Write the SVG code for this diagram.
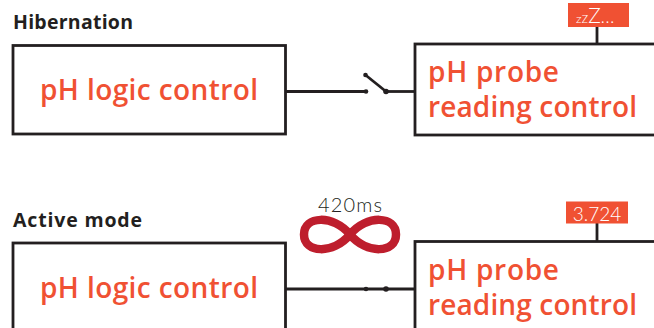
<svg xmlns="http://www.w3.org/2000/svg" width="654" height="328" viewBox="0 0 654 328">
<style>
.box{fill:#fff;stroke:#231f20;stroke-width:2.8}
.wire{fill:none;stroke:#231f20;stroke-width:2.8}
.dot{fill:#231f20}
.head{font-family:"Open Sans",Lato,"Liberation Sans",sans-serif;font-weight:700;font-size:19.5px;fill:#231f20}
.lbl{font-family:"Open Sans",Lato,"Liberation Sans",sans-serif;font-weight:600;font-size:28px;fill:#f05133}
.badge{fill:#f05133}
.btxt{font-family:Lato,"Liberation Sans",sans-serif;font-weight:300;fill:#fff}
.time{font-family:Lato,"Liberation Sans",sans-serif;font-weight:300;font-size:20px;fill:#231f20}
</style>
<rect width="654" height="328" fill="#fff"/>
<text class="head" x="13" y="29" textLength="120">Hibernation</text>
<text class="head" x="13" y="226.5" textLength="129">Active mode</text>

<g id="connectors">
<line class="wire" x1="286" y1="91.5" x2="366" y2="91.5"/>
<line class="wire" x1="386" y1="91.5" x2="415" y2="91.5"/>
<line class="wire" x1="365.5" y1="75" x2="386" y2="91.5"/>
<circle class="dot" cx="366" cy="91.5" r="2.3"/>
<circle class="dot" cx="386" cy="91.5" r="2.8"/>
<circle class="dot" cx="365.5" cy="75" r="2.3"/>
<line class="wire" x1="597" y1="26" x2="597" y2="44"/>
<line class="wire" x1="286" y1="289" x2="415" y2="289"/>
<circle class="dot" cx="366" cy="289" r="2.3"/>
<circle class="dot" cx="386" cy="289" r="2.8"/>
<line class="wire" x1="597" y1="223" x2="597" y2="241.5"/>
</g>

<g id="logic-hibernation">
<rect class="box" x="13" y="45.5" width="272.5" height="88.5"/>
<text class="lbl" x="149" y="100" text-anchor="middle" textLength="218">pH logic control</text>
</g>
<g id="probe-hibernation">
<rect class="box" x="415" y="44" width="260" height="91"/>
<text class="lbl" x="428" y="82" textLength="131">pH probe</text>
<text class="lbl" x="428" y="117" textLength="209">reading control</text>
</g>
<g id="badge-sleep">
<rect class="badge" x="568" y="3" width="61" height="24"/>
<text class="btxt" x="576" y="22.5"><tspan font-size="12.5">z</tspan><tspan font-size="15">z</tspan><tspan font-size="21">Z</tspan><tspan font-size="17" letter-spacing="0.8">...</tspan></text>
</g>

<g id="loop-timer">
<text class="time" x="350" y="211.5" text-anchor="middle" textLength="64">420ms</text>
<path d="M350,234.5 C367,214 396,216 396,234.5 C396,253 367,255 350,234.5 C333,214 304,216 304,234.5 C304,253 333,255 350,234.5 Z" fill="none" stroke="#be1e2d" stroke-width="8.5"/>
</g>
<g id="logic-active">
<rect class="box" x="13" y="243" width="272.5" height="100"/>
<text class="lbl" x="149" y="297.5" text-anchor="middle" textLength="218">pH logic control</text>
</g>
<g id="probe-active">
<rect class="box" x="415" y="241.5" width="260" height="100"/>
<text class="lbl" x="428" y="279.5" textLength="131">pH probe</text>
<text class="lbl" x="428" y="314.5" textLength="209">reading control</text>
</g>
<g id="badge-value">
<rect class="badge" x="566" y="201.5" width="62" height="22"/>
<text class="btxt" x="597" y="220.5" font-size="19" text-anchor="middle">3.724</text>
</g>
</svg>
